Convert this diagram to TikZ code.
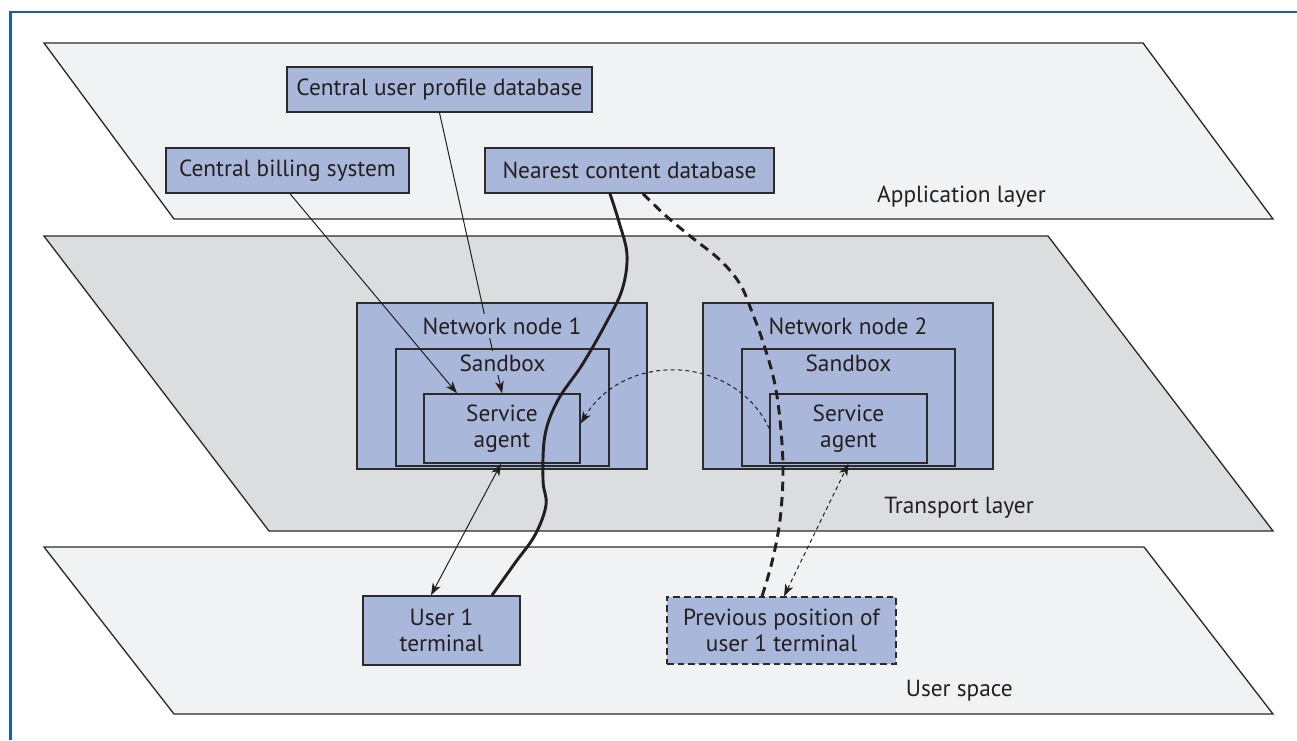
\documentclass[tikz,border=0pt]{standalone}
\usepackage{fontspec}
\setmainfont{PT Sans}
\usetikzlibrary{arrows.meta,calc,fit}

\definecolor{frameblue}{HTML}{1B5FA6}
\definecolor{layerlight}{HTML}{F1F2F4}
\definecolor{layerdark}{HTML}{DCDDDF}
\definecolor{boxblue}{HTML}{A9B8DA}
\definecolor{ink}{HTML}{231F20}
\definecolor{edge}{HTML}{2B2B2B}

\tikzset{
  >={Stealth[length=9pt,width=6.5pt,inset=2.5pt]},
  layer/.style={draw=edge, line width=1pt, line join=miter},
  layerlabel/.style={anchor=east, inner sep=0pt, text=ink},
  box/.style={draw=edge, line width=1.1pt, fill=boxblue, inner sep=0pt,
              text=ink, align=center},
  prevbox/.style={box, dash pattern=on 5pt off 3pt},
  caption/.style={fill=boxblue, inner xsep=1pt, inner ysep=3pt, text=ink},
  thin/.style={draw=ink, line width=0.75pt},
  route/.style={draw=ink, line width=2.2pt},
  moved/.style={draw=ink, line width=2.2pt, dash pattern=on 7pt off 4.5pt},
  handover/.style={draw=ink, line width=0.75pt, dash pattern=on 3pt off 2.5pt},
}

\begin{document}
\begin{tikzpicture}[x=0.75pt,y=-0.75pt,
  font=\fontsize{17.5}{19.5}\selectfont]
\useasboundingbox (0,0) rectangle (1297,740);

% frame
\draw[frameblue, line width=1.6pt] (10.5,740) -- (10.5,12) -- (1297,12);

% the three layers
\path[layer, fill=layerlight] (44,43) -- (1143,43) -- (1273,219) -- (174,219) -- cycle;
\path[layer, fill=layerdark]  (44,236) -- (1048,236) -- (1273,531) -- (269,531) -- cycle;
\path[layer, fill=layerlight] (44,547) -- (1144,547) -- (1273,714) -- (174,714) -- cycle;

\node[layerlabel] (applbl) at (1046,197) {Application layer};
\node[layerlabel] (trlbl)  at (1034,508) {Transport layer};
\node[layerlabel] (uslbl)  at (1013,691) {User space};

% application layer servers
\node[box, fit={(287,67) (592,112)}]  (prof) {};
\node[text=ink] at (prof.center) {Central user profile database};
\node[box, fit={(166,148) (409,193)}] (bill) {};
\node[text=ink] at (bill.center) {Central billing system};
\node[box, fit={(485,148) (774,193)}] (near) {};
\node[text=ink] at (near.center) {Nearest content database};

% network nodes with sandboxes and agents
\node[box, fit={(357,303) (647,469)}] (nn1) {};
\node[box, fit={(396,349) (609,466)}] (sb1) {};
\node[box, fit={(424,394) (580,463)}] (sa1) {};
\node[text=ink, align=center] at (sa1.center) {Service\\agent};

\node[box, fit={(703,303) (993,469)}] (nn2) {};
\node[box, fit={(742,349) (955,466)}] (sb2) {};
\node[box, fit={(770,394) (927,463)}] (sa2) {};
\node[text=ink, align=center] at (sa2.center) {Service\\agent};

% terminals
\node[box, fit={(363,596) (520,665)}] (u1) {};
\node[text=ink, align=center] at (u1.center) {User 1\\terminal};
\node[prevbox, fit={(667,597) (896,664)}] (prev) {};
\node[text=ink, align=center] at (prev.center) {Previous position of\\user 1 terminal};

% control links
\draw[thin, ->] ($(bill.south)+(2.5,0)$) -- ($(sa1.north)+(-45,0)$);
\draw[thin, ->] (prof.south) -- (sa1.north);
\draw[thin, <->] ($(u1.north)+(-10.5,0)$) -- ($(sa1.south)+(-1,0)$);
\draw[handover, <->] ($(prev.north)+(2.5,0)$) -- (sa2.south);
\draw[handover, ->] (sa2.west) .. controls (735,355) and (625,350) .. ($(sa1.east)+(0,-5)$);

% content delivery paths
\coordinate (cs) at ($(near.south)+(-19.5,0)$);
\coordinate (ce) at ($(u1.north)+(50.5,0)$);
\draw[route, line cap=round] plot[smooth, tension=0.6] coordinates {
  (cs) (619,222) (627,255) (622,290) (605,325) (582,365) (558,400)
  (545,435) (543,480) (546,505) (535,535) (515,563) (ce)};

\coordinate (ds) at ($(near.south)+(13.5,0)$);
\coordinate (de) at ($(prev.north)+(-19.5,0)$);
\draw[moved] plot[smooth, tension=0.6] coordinates {
  (ds) (665,215) (690,236) (720,260) (740,284) (752,312) (763,342)
  (774,380) (780,420) (783,470) (780,520) (772,562) (de)};

% captions drawn over the links
\node[caption] (nn1lbl) at (502,326) {Network node 1};
\node[caption] (sb1lbl) at (502.5,363) {Sandbox};
\node[caption] (nn2lbl) at (848,326) {Network node 2};
\node[caption] (sb2lbl) at (848.5,363) {Sandbox};
\end{tikzpicture}
\end{document}
